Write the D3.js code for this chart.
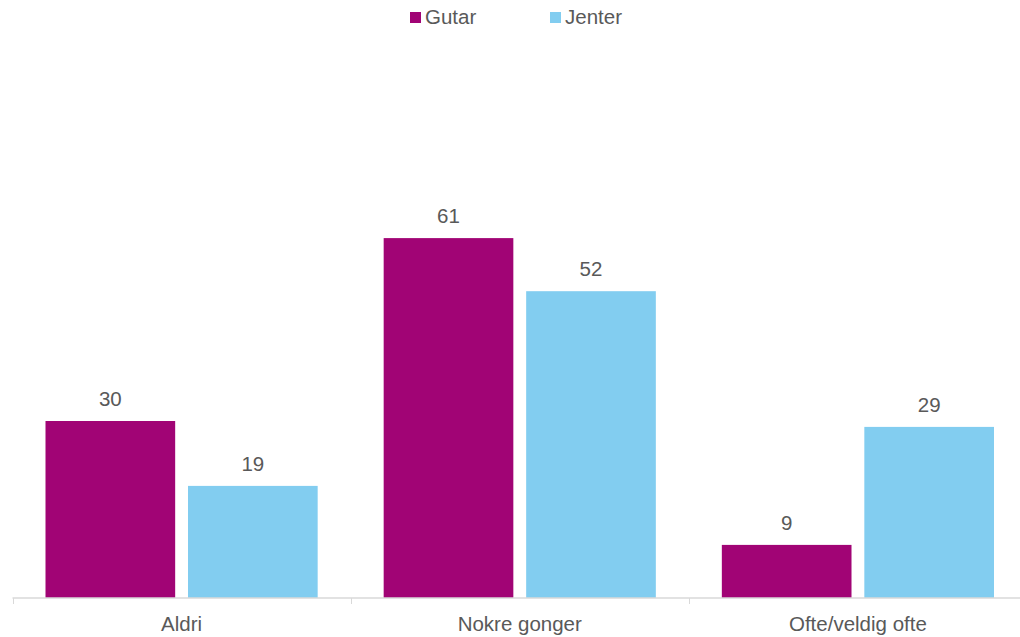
<!DOCTYPE html>
<html>
<head>
<meta charset="utf-8">
<script src="https://cdn.jsdelivr.net/npm/d3@7"></script>
<style>
  body { margin: 0; background: #fff; }
  text { font-family: "Liberation Sans", Arial, sans-serif; fill: #595959; }
</style>
</head>
<body>
<svg id="chart" width="1020" height="637"></svg>
<script>
// Data
const categories = ["Aldri", "Nokre gonger", "Ofte/veldig ofte"];
const series = ["Gutar", "Jenter"];
const gutar = [30, 61, 9];
const jenter = [19, 52, 29];
const colors = ["#a10475", "#82cdf0"];

const rows = categories.map((c, i) => ({ cat: c, values: [gutar[i], jenter[i]] }));

const svg = d3.select("#chart");
const baseY = 598;
const fontSize = "20.5px";

// Scales
const x0 = d3.scaleBand()
    .domain(categories)
    .range([12.5, 1027])
    .padding(0);

const x1 = d3.scaleBand()
    .domain(series)
    .range([33, x0.bandwidth() - 33])
    .paddingInner(0.09);

const y = d3.scaleLinear()
    .domain([0, 70])
    .range([baseY, baseY - 70 * 5.9]);

// Bars
const groups = svg.append("g")
    .selectAll("g")
    .data(rows)
    .join("g")
    .attr("transform", d => `translate(${x0(d.cat)},0)`);

const cells = d => d.values.map((v, j) => ({ s: series[j], v: v, j: j }));

groups.selectAll("rect")
    .data(cells)
    .join("rect")
    .attr("x", d => x1(d.s))
    .attr("y", d => y(d.v))
    .attr("width", x1.bandwidth())
    .attr("height", d => baseY - y(d.v))
    .attr("fill", d => colors[d.j]);

// Value labels
groups.selectAll(".val")
    .data(cells)
    .join("text")
    .attr("class", "val")
    .attr("x", d => x1(d.s) + x1.bandwidth() / 2)
    .attr("y", d => y(d.v) - 15)
    .attr("text-anchor", "middle")
    .style("font-size", fontSize)
    .text(d => d.v);

// X axis
const axis = svg.append("g")
    .attr("transform", `translate(0,${baseY})`);

axis.append("line")
    .attr("x1", 12.5).attr("x2", 1020)
    .attr("y1", 0).attr("y2", 0)
    .attr("stroke", "#d9d9d9")
    .attr("stroke-width", 1.5);

const tickPos = categories.map(c => x0(c)).concat([x0.range()[1]]);
axis.selectAll(".tick-line")
    .data(tickPos)
    .join("line")
    .attr("x1", d => Math.round(d) + 0.5)
    .attr("x2", d => Math.round(d) + 0.5)
    .attr("y1", 0).attr("y2", 6)
    .attr("stroke", "#d9d9d9")
    .attr("stroke-width", 1);

axis.selectAll(".cat")
    .data(categories)
    .join("text")
    .attr("class", "cat")
    .attr("x", d => x0(d) + x0.bandwidth() / 2)
    .attr("y", 33)
    .attr("text-anchor", "middle")
    .style("font-size", fontSize)
    .text(d => d);

// Legend
const legendX = [410, 550];
const legend = svg.append("g")
    .selectAll("g")
    .data(series)
    .join("g")
    .attr("transform", (d, i) => `translate(${legendX[i]},12)`);

legend.append("rect")
    .attr("width", 11)
    .attr("height", 11)
    .attr("fill", (d, i) => colors[i]);

legend.append("text")
    .attr("x", 15)
    .attr("y", 12)
    .style("font-size", fontSize)
    .text(d => d);
</script>
</body>
</html>
